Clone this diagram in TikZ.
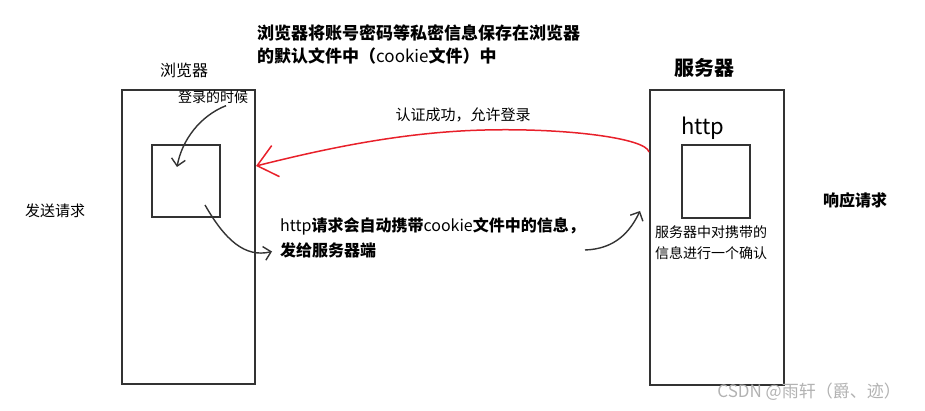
\documentclass[tikz,border=0pt]{standalone}
\usepackage{fontspec}
\setmainfont{Noto Sans CJK SC}
\usepackage{xcolor}
\definecolor{ink}{HTML}{333333}
\definecolor{okred}{HTML}{E8202A}
\usetikzlibrary{arrows.meta, positioning}
\tikzset{
    panel/.style={
        draw=ink, line width=2pt,
        inner sep=0pt,
        minimum width=133pt,
        minimum height=294pt
    },
    slot/.style={
        draw=ink, line width=1.8pt,
        inner sep=0pt,
        minimum width=68pt,
        minimum height=72pt
    },
    note/.style={
        inner sep=0pt, align=left,
        font=\fontsize{14}{21}\selectfont
    },
    bnote/.style={
        note,
        font=\fontsize{16}{25}\selectfont\bfseries
    },
    hand/.style={
        line width=1.4pt, draw=ink,
        -{Straight Barb[length=7pt, width=14pt]}
    },
    back/.style={
        line width=1.5pt, draw=okred,
        -{Straight Barb[length=19pt, width=32pt]}
    },
}
\newcommand{\lite}[1]{{\mdseries #1}}

\begin{document}
\begin{tikzpicture}[x=1pt, y=-1pt]
        \useasboundingbox (0,0) rectangle (925,411);

        % browser side
        \node[panel] (brw) at (188.5,237) {};
        \node[slot] (bslot) at (186,181) {};
        \node[note, font=\fontsize{16}{20}\selectfont] (brwl) at (184,70) {浏览器};
        \node[note] (login) at (213,97) {登录的时候};
        \node[note, font=\fontsize{15}{20}\selectfont] (send) at (55,211) {发送请求};

        % server side
        \node[panel, minimum width=134pt, minimum height=295pt] (srv) at (717,237.5) {};
        \node[slot, minimum height=73pt] (sslot) at (716,181.5) {};
        \node[note, font=\fontsize{20}{24}\selectfont\bfseries] (srvl) at (704,68) {服务器};
        \node[note, font=\fontsize{22}{24}\selectfont\mdseries] (shttp) at (703,128) {http};
        \node[note, anchor=west] (check) at (655,242.5) {服务器中对携带的\\信息进行一个确认};
        \node[note, font=\fontsize{16}{20}\selectfont\bfseries] (resp) at (855,200) {响应请求};

        % texts in between
        \node[bnote, font=\fontsize{17}{23}\selectfont\bfseries, anchor=north west] (store) at (257,24)
            {浏览器将账号密码等私密信息保存在浏览器\\的默认文件中（\lite{cookie}文件）中};
        \node[note, font=\fontsize{15}{20}\selectfont] (okl) at (463,115) {认证成功，允许登录};
        \node[bnote, anchor=west] (req) at (280,237.5)
            {\lite{http}请求会自动携带\lite{cookie}文件中的信息，\\发给服务器端};
        \node[note, font=\fontsize{17}{20}\selectfont, text=gray!60, anchor=east] (mark) at (901,392)
            {CSDN @雨轩（爵、迹）};

        % hand drawn arrows
        \coordinate (sendA) at (585,250);
        \draw[hand] ([xshift=13pt,yshift=-2pt]login.south) .. controls (200,116) and (182,140) .. ([xshift=-9pt,yshift=14pt]bslot.center);
        \draw[hand] ([xshift=19pt,yshift=-24pt]bslot.center) .. controls (225,240) and (245,258) .. ([xshift=-8pt,yshift=-14pt]req.west);
        \draw[hand] (sendA) .. controls (615,249) and (630,232) .. ([xshift=-9pt,yshift=26.5pt]srv.west);
        \draw[back] ([yshift=85.5pt]srv.west) .. controls (646,138) and (565,128) .. (485,130)
                    .. controls (400,132) and (320,150) .. ([yshift=71pt]brw.east);
\end{tikzpicture}
\end{document}
